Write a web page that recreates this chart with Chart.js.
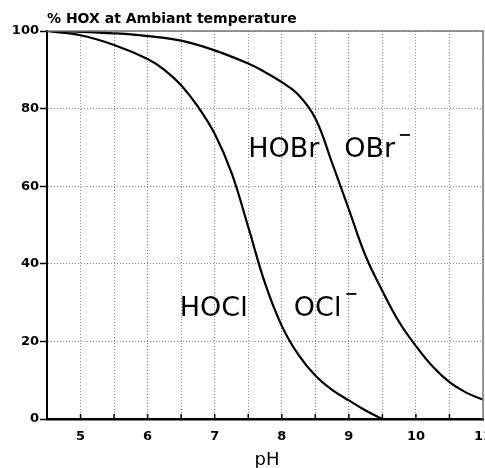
<!DOCTYPE html>
<html>
<head>
<meta charset="utf-8">
<script src="https://cdn.jsdelivr.net/npm/chart.js@4"></script>
<style>
  html, body { margin: 0; padding: 0; background: #fff; }
  #wrap { width: 485px; height: 468px; }
</style>
</head>
<body>
<div id="wrap"><canvas id="hoxChart" width="485" height="468"></canvas></div>
<script>
// values (pH on x, % of HOX on y)
const hoclPh = [4.5, 5, 5.5, 6, 6.25, 6.5, 6.75, 7, 7.25, 7.5, 7.75, 8, 8.25, 8.5, 8.75, 9, 9.25, 9.5];
const hoclPct = [100, 98.9, 96.4, 92.8, 90, 86, 80.5, 73.5, 63.5, 49.5, 35, 24, 16.5, 11.2, 7.5, 4.8, 2.2, 0];

const hobrPh = [4.5, 5, 5.5, 6, 6.5, 7, 7.5, 7.75, 8, 8.25, 8.5, 8.75, 9, 9.25, 9.5, 9.75, 10, 10.25, 10.5, 10.75, 11];
const hobrPct = [100, 99.8, 99.4, 98.7, 97.5, 95, 91.6, 89.4, 86.8, 83.5, 77.5, 66, 54, 42, 33, 25, 18.8, 13.5, 9.5, 6.8, 5];

const xTickLabels = [5, 6, 7, 8, 9, 10, 11];
const yTickLabels = [0, 20, 40, 60, 80, 100];

// text labels inside the plot, placed in data units
const speciesLabels = [
  { text: "HOBr", x: 7.5, y: 67.5, minus: false },
  { text: "OBr", x: 8.93, y: 67.5, minus: true },
  { text: "HOCl", x: 6.48, y: 26.5, minus: false },
  { text: "OCl", x: 8.18, y: 26.5, minus: true },
];

function toPoints(xs, ys) {
  return xs.map((x, i) => ({ x: x, y: ys[i] }));
}

// ! draws the frame, the small inner ticks, the species names, title and axis name
const hoxText = {
  id: "hoxText",
  afterDraw(chart) {
    const { ctx, chartArea, scales } = chart;
    const xs = scales.x;
    const ys = scales.y;
    ctx.save();

    // grey top and right border
    ctx.strokeStyle = "#777";
    ctx.lineWidth = 1.5;
    ctx.beginPath();
    ctx.moveTo(chartArea.left, chartArea.top);
    ctx.lineTo(chartArea.right, chartArea.top);
    ctx.lineTo(chartArea.right, chartArea.bottom);
    ctx.stroke();

    // short ticks pointing up from the pH axis
    ctx.strokeStyle = "#000";
    ctx.lineWidth = 1.5;
    xs.ticks.forEach((t) => {
      if (t.value <= 4.5 || t.value >= 11) return;
      const px = xs.getPixelForValue(t.value);
      ctx.beginPath();
      ctx.moveTo(px, chartArea.bottom);
      ctx.lineTo(px, chartArea.bottom - 5);
      ctx.stroke();
    });

    // species names
    ctx.fillStyle = "#000";
    ctx.textBaseline = "alphabetic";
    ctx.textAlign = "left";
    speciesLabels.forEach((l) => {
      const px = xs.getPixelForValue(l.x);
      const py = ys.getPixelForValue(l.y);
      ctx.font = '27px "DejaVu Sans"';
      ctx.fillText(l.text, px, py);
      if (l.minus) {
        const w = ctx.measureText(l.text).width;
        ctx.font = 'bold 16px "DejaVu Sans"';
        ctx.fillText("\u2212", px + w + 3, py - 17);
      }
    });

    // title
    ctx.font = 'bold 14px "DejaVu Sans"';
    ctx.fillText("% HOX at Ambiant temperature", 47, 23);

    // axis name
    ctx.font = '18px "DejaVu Sans"';
    ctx.textAlign = "center";
    ctx.fillText("pH", 267, 465);
    ctx.restore();
  },
};

const config = {
  type: "line",
  data: {
    datasets: [
      {
        label: "HOCl",
        data: toPoints(hoclPh, hoclPct),
        borderColor: "#000",
        borderWidth: 2.2,
        pointRadius: 0,
        tension: 0.4,
        fill: false,
      },
      {
        label: "HOBr",
        data: toPoints(hobrPh, hobrPct),
        borderColor: "#000",
        borderWidth: 2.2,
        pointRadius: 0,
        tension: 0.4,
        fill: false,
      },
    ],
  },
  options: {
    responsive: false,
    animation: false,
    layout: { padding: { top: 31, right: 2, left: 0, bottom: 0 } },
    plugins: {
      legend: { display: false },
      tooltip: { enabled: false },
      title: { display: false },
    },
    scales: {
      x: {
        type: "linear",
        min: 4.5,
        max: 11,
        border: { display: true, color: "#000", width: 2.5, dash: [1, 2] },
        grid: { color: "#888", lineWidth: 1, drawTicks: false },
        ticks: {
          stepSize: 0.5,
          autoSkip: false,
          maxRotation: 0,
          padding: 10,
          color: "#000",
          font: { family: "DejaVu Sans", size: 13, weight: "bold" },
          callback: (v) => (xTickLabels.includes(v) ? String(v) : ""),
        },
        afterFit(scale) {
          scale.height = 49;
          scale.paddingLeft = 0;
          scale.paddingRight = 0;
        },
      },
      y: {
        min: 0,
        max: 100,
        border: { display: true, color: "#000", width: 2, dash: [1, 2] },
        grid: {
          color: "#888",
          lineWidth: 1,
          drawTicks: true,
          tickLength: 7,
          tickColor: "#000",
          tickWidth: 1.5,
          tickBorderDash: [],
        },
        ticks: {
          stepSize: 20,
          padding: 1,
          color: "#000",
          font: { family: "DejaVu Sans", size: 13, weight: "bold" },
          callback: (v) => (yTickLabels.includes(v) ? String(v) : ""),
        },
        afterFit(scale) {
          scale.width = 47;
          scale.paddingTop = 0;
          scale.paddingBottom = 0;
        },
      },
    },
  },
  plugins: [hoxText],
};

const hoxChart = new Chart(document.getElementById("hoxChart"), config);
</script>
</body>
</html>
